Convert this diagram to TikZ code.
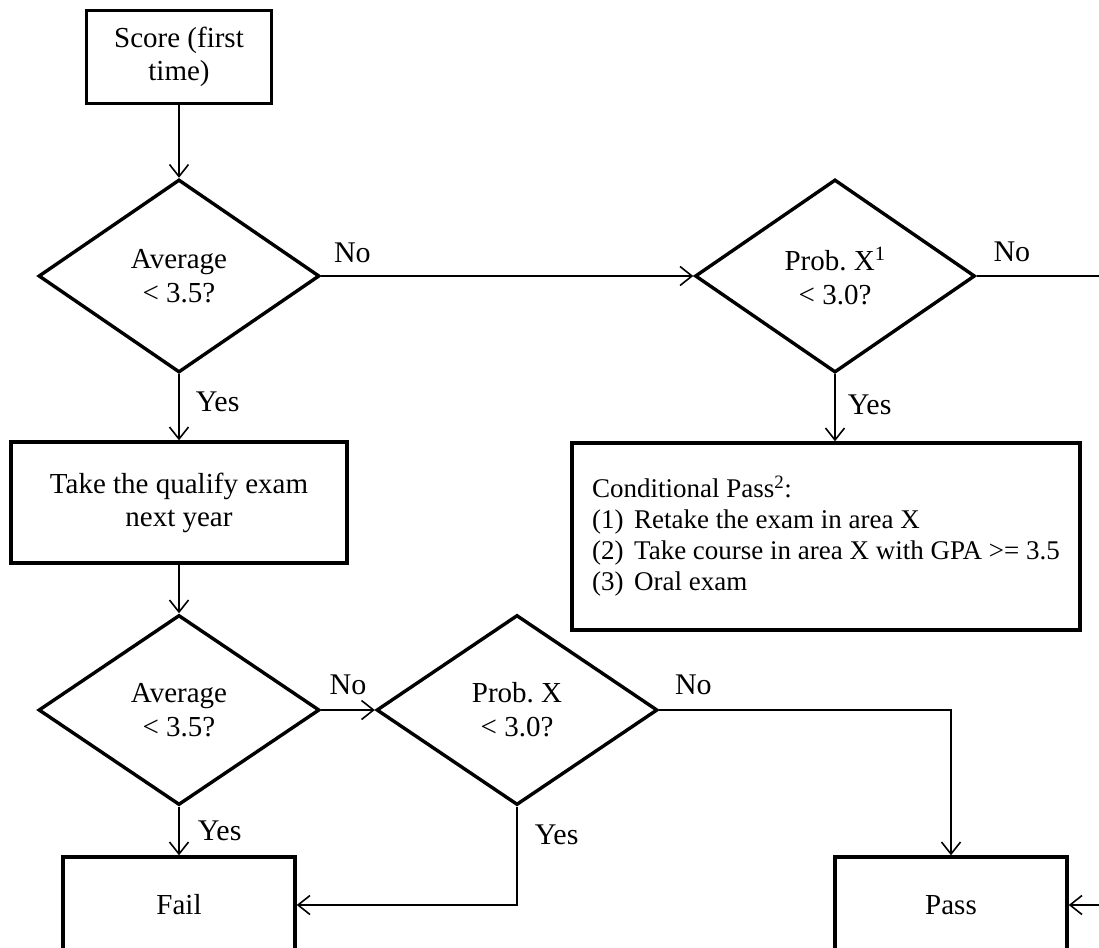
\documentclass[tikz,border=0pt]{standalone}
\usepackage{fontspec}
\setmainfont{Liberation Serif}
\usetikzlibrary{shapes.geometric,arrows.meta}
\frenchspacing

\begin{document}
\begin{tikzpicture}[x=1pt,y=-1pt,
        box/.style={draw,rectangle,line width=3.4pt,inner sep=0pt,align=center,font=\fontsize{29}{33}\selectfont},
        decision/.style={draw,diamond,line width=3.4pt,inner sep=0pt,minimum width=281pt,minimum height=193pt,align=center,font=\fontsize{29}{34}\selectfont},
        lbl/.style={inner sep=0pt,font=\fontsize{30}{32}\selectfont},
        arr/.style={line width=1.6pt,-{Straight Barb[length=12pt,width=19pt,line width=1.6pt]}}]
        \useasboundingbox (0,0) rectangle (1099,947);
        \clip (0,0) rectangle (1099,947);

        \coordinate (S) at (179,57);
        \coordinate (A1) at (179,276);
        \coordinate (X1) at (835,276);
        \coordinate (T) at (179,502.5);
        \coordinate (C) at (826,536.5);
        \coordinate (A2) at (179,710);
        \coordinate (X2) at (517,710);
        \coordinate (F) at (179,905);
        \coordinate (P) at (951,905);
        \coordinate (E1) at (1110,276);
        \coordinate (E2) at (1110,905);

        \node[box,minimum width=185pt,minimum height=93pt] (score) at (S) {Score (first\\time)};
        \node[decision] (avg1) at (A1) {Average\\< 3.5?};
        \node[decision,minimum width=280pt] (probx1) at (X1) {Prob. X\textsuperscript{1}\\< 3.0?};
        \node[box,minimum width=336pt,minimum height=121pt] (retake) at (T) {Take the qualify exam\\next year};
        \node[box,minimum width=508pt,minimum height=187pt,align=left,font=\fontsize{27}{31}\selectfont] (cond) at (C)
            {Conditional Pass\textsuperscript{2}:\\
             \makebox[42pt][l]{(1)}Retake the exam in area X\\
             \makebox[42pt][l]{(2)}Take course in area X with GPA >= 3.5\\
             \makebox[42pt][l]{(3)}Oral exam};
        \node[decision,minimum height=190pt] (avg2) at (A2) {Average\\< 3.5?};
        \node[decision,minimum height=190pt] (probx2) at (X2) {Prob. X\\< 3.0?};
        \node[box,minimum width=232pt,minimum height=96pt] (fail) at (F) {Fail};
        \node[box,minimum width=232pt,minimum height=96pt] (pass) at (P) {Pass};

        %############################################

        \draw[arr] (score) -- (avg1);
        \draw[arr] (avg1) -- node[lbl,pos=0,anchor=north west,xshift=16pt,yshift=-17pt] {Yes} (retake);
        \draw[arr] (avg1.east) -- node[lbl,pos=0,anchor=south west,xshift=12pt,yshift=12pt] {No} (probx1.west);
        \draw[arr] (probx1.south) -- node[lbl,pos=0,anchor=north west,xshift=12pt,yshift=-20pt] {Yes} (probx1.south |- cond.north);
        \draw[line width=1.6pt] (probx1.east) -- node[lbl,pos=0,anchor=south west,xshift=16pt,yshift=13pt] {No} (E1);

        \draw[arr] (retake) -- (avg2);
        \draw[arr] (avg2.east) -- node[lbl,midway,above,yshift=14pt] {No} (probx2.west);
        \draw[arr] (avg2) -- node[lbl,pos=0,anchor=north west,xshift=18pt,yshift=-13pt] {Yes} (fail);
        \draw[arr] (probx2.south) |- node[lbl,pos=0,anchor=north west,xshift=17pt,yshift=-17pt] {Yes} (fail.east);
        \draw[arr] (probx2.east) -| node[lbl,pos=0,anchor=south west,xshift=15pt,yshift=14pt] {No} (pass.north);
        \draw[arr] (E2) -- (pass.east);
    \end{tikzpicture}
\end{document}
